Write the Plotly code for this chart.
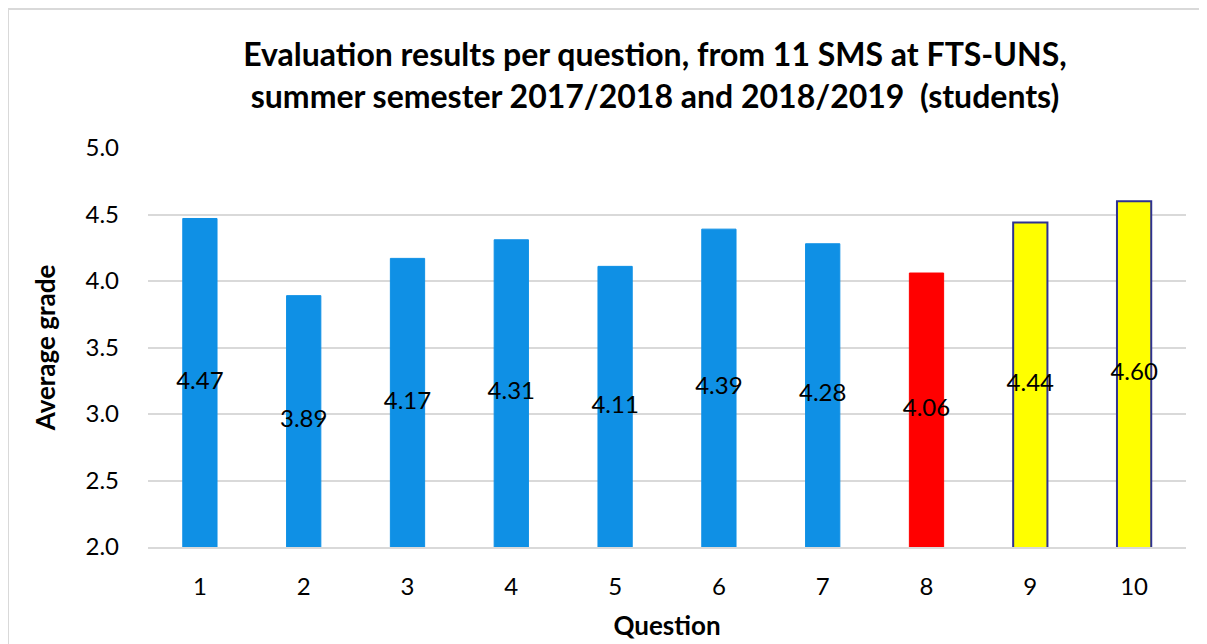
import plotly.graph_objects as go

questions = ["1", "2", "3", "4", "5", "6", "7", "8", "9", "10"]
grades = [4.47, 3.89, 4.17, 4.31, 4.11, 4.39, 4.28, 4.06, 4.44, 4.60]
bar_colors = ["#0F90E5"] * 7 + ["#FF0000", "#FFFF00", "#FFFF00"]
line_colors = ["#0F90E5"] * 7 + ["#FF0000", "#2E3192", "#2E3192"]
line_widths = [1] * 8 + [2, 2]
y_ticks = [2.0, 2.5, 3.0, 3.5, 4.0, 4.5, 5.0]
y_min, y_max = 2.0, 5.0

FONT = "Lato, 'Open Sans', sans-serif"

fig = go.Figure()
fig.add_trace(go.Bar(
    x=questions, y=grades,
    marker=dict(color=bar_colors, line=dict(color=line_colors, width=line_widths)),
    hoverinfo="skip",
))
# data labels centred in the visible part of each bar
fig.add_trace(go.Scatter(
    x=questions, y=[(y_min + v) / 2 for v in grades],
    mode="text", text=[f"{v:.2f}" for v in grades],
    textposition="middle center",
    textfont=dict(size=24, color="black", family=FONT),
    hoverinfo="skip",
))

# page offset of 8px (browser body margin) is compensated in the margins
W, H = 1207, 644
ml, mr, mt, mb = 140, 29, 140, 105
pw, ph = W - ml - mr, H - mt - mb

fig.update_layout(
    width=W, height=H,
    margin=dict(l=ml, r=mr, t=mt, b=mb),
    paper_bgcolor="white", plot_bgcolor="white",
    bargap=0.67,
    showlegend=False,
    font=dict(family=FONT, color="black"),
    title=dict(
        text="<b>Evaluation results per question, from 11 SMS at FTS-UNS,<br>summer semester 2017/2018 and 2018/2019  (students)</b>",
        x=647 / W, xref="container", xanchor="center",
        y=1 - 58 / H, yref="container", yanchor="middle",
        font=dict(size=32, family=FONT, color="black"),
    ),
)

fig.update_yaxes(
    range=[y_min, y_max], tickvals=y_ticks, ticktext=[f"{t:.1f}" for t in y_ticks],
    showgrid=True, gridcolor="#D9D9D9", gridwidth=1.5,
    zeroline=False, showline=False, ticks="", ticklabelstandoff=28,
    tickfont=dict(size=24, family=FONT),
    title=dict(text="<b>Average grade</b>", font=dict(size=26, family=FONT), standoff=22),
)
fig.update_xaxes(
    showline=True, linecolor="#D9D9D9", linewidth=1.5,
    ticks="", tickfont=dict(size=24, family=FONT), ticklabelstandoff=17,
    title=dict(text="<b>Question</b>", font=dict(size=26, family=FONT), standoff=18),
)

# outer chart border
fig.add_shape(type="rect", xref="paper", yref="paper",
              x0=(0 - ml) / pw, x1=(1193 - ml) / pw,
              y0=-(mb + 30) / ph, y1=1 + (mt - 1) / ph,
              line=dict(color="#D9D9D9", width=2), fillcolor="rgba(0,0,0,0)", layer="below")

fig.write_html("out.html")
